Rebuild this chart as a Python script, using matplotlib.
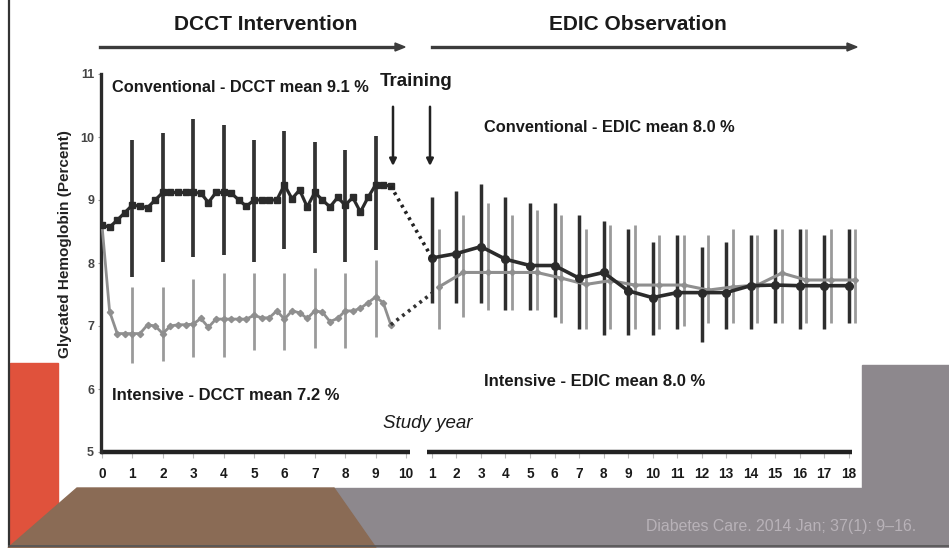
import matplotlib
matplotlib.use("Agg")
import matplotlib.pyplot as plt
from matplotlib.patches import Polygon, Rectangle
import numpy as np

# ---------------- data ----------------
dcct_years = [i * 0.25 for i in range(39)]  # 0 .. 9.5 quarterly
conv_dcct = [8.60, 8.57, 8.68, 8.80, 8.92, 8.90, 8.88, 9.00, 9.12, 9.12,
             9.12, 9.12, 9.12, 9.11, 8.96, 9.12, 9.12, 9.11, 9.00, 8.90,
             9.00, 9.00, 9.00, 9.00, 9.24, 9.02, 9.16, 8.89, 9.12, 9.00,
             8.89, 9.04, 8.92, 9.04, 8.81, 9.04, 9.24, 9.24, 9.22]
int_dcct = [8.60, 7.23, 6.88, 6.88, 6.88, 6.88, 7.02, 7.00, 6.88, 7.00,
            7.02, 7.02, 7.03, 7.12, 6.98, 7.11, 7.11, 7.11, 7.11, 7.11,
            7.17, 7.13, 7.13, 7.24, 7.11, 7.24, 7.21, 7.12, 7.24, 7.22,
            7.07, 7.12, 7.24, 7.24, 7.28, 7.37, 7.46, 7.37, 7.02]

dcct_bar_years = [1, 2, 3, 4, 5, 6, 7, 8, 9]
conv_dcct_hi = [9.96, 10.06, 10.28, 10.19, 9.96, 10.10, 9.92, 9.80, 10.02]
conv_dcct_lo = [7.78, 8.02, 8.10, 8.13, 8.01, 8.23, 8.16, 8.02, 8.21]
int_dcct_hi = [7.62, 7.62, 7.74, 7.84, 7.84, 7.84, 7.92, 7.84, 8.04]
int_dcct_lo = [6.42, 6.44, 6.51, 6.51, 6.62, 6.62, 6.65, 6.65, 6.82]

edic_years = list(range(1, 19))
conv_edic = [8.08, 8.15, 8.26, 8.06, 7.96, 7.96, 7.76, 7.85, 7.56, 7.45,
             7.53, 7.53, 7.53, 7.64, 7.65, 7.64, 7.64, 7.64]
conv_edic_hi = [9.05, 9.14, 9.25, 9.05, 8.95, 8.95, 8.76, 8.66, 8.54, 8.34,
                8.44, 8.25, 8.34, 8.44, 8.54, 8.54, 8.44, 8.54]
conv_edic_lo = [7.36, 7.36, 7.36, 7.25, 7.25, 7.15, 6.95, 6.86, 6.86, 6.86,
                6.95, 6.75, 6.95, 6.95, 7.05, 6.95, 6.95, 7.05]
int_edic = [7.62, 7.85, 7.85, 7.85, 7.85, 7.76, 7.66, 7.72, 7.65, 7.65,
            7.65, 7.57, 7.62, 7.65, 7.84, 7.73, 7.73, 7.73]
int_edic_hi = [8.54, 8.76, 8.95, 8.76, 8.84, 8.76, 8.54, 8.60, 8.60, 8.44,
               8.44, 8.44, 8.54, 8.44, 8.54, 8.54, 8.54, 8.54]
int_edic_lo = [6.95, 7.15, 7.25, 7.25, 7.25, 7.05, 6.95, 6.95, 6.95, 6.95,
               7.00, 7.05, 7.05, 7.05, 7.05, 7.05, 7.05, 7.05]

dcct_tick_labels = [str(i) for i in range(0, 11)]
edic_tick_labels = [str(i) for i in range(1, 19)]
y_ticks = [5, 6, 7, 8, 9, 10, 11]

# ---------------- scale for broken study-year axis ----------------
EDIC_START = 10.855   # axis position of EDIC year 1
EDIC_STEP = 0.806     # axis units per EDIC year
GRAY_SHIFT = 0.28     # EDIC-year offset of intensive bars


def edic_pos(y):
    return EDIC_START + (np.asarray(y, dtype=float) - 1) * EDIC_STEP


W, H = 949, 548
fig = plt.figure(figsize=(W / 100, H / 100), dpi=100)
fig.patch.set_facecolor("white")


def fx(px):
    return px / W


def fy(py):
    return 1 - py / H


FONT = ["Liberation Sans", "DejaVu Sans"]

# ---------------- decorative background ----------------
red = "#e0523c"
brown = "#8a6b55"
grey = "#8d888d"
fig.add_artist(Rectangle((fx(10), fy(548)), fx(48) - fx(0), fy(363) - fy(548),
                         transform=fig.transFigure, color=red, zorder=0))
fig.add_artist(Polygon([(fx(333), fy(488)), (fx(949), fy(488)), (fx(949), fy(548)),
                        (fx(375), fy(548))], closed=True, transform=fig.transFigure,
                       color=grey, zorder=0))
fig.add_artist(Rectangle((fx(862), fy(548)), fx(949) - fx(862), fy(365) - fy(548),
                         transform=fig.transFigure, color=grey, zorder=0))
fig.add_artist(Polygon([(fx(77), fy(488)), (fx(334), fy(488)), (fx(376), fy(548)),
                        (fx(8), fy(548))], closed=True, transform=fig.transFigure,
                       color=brown, zorder=0))
fig.add_artist(plt.Line2D([fx(9), fx(9)], [fy(0), fy(546)], transform=fig.transFigure,
                          color="#333333", lw=1.6, zorder=1))
fig.add_artist(plt.Line2D([fx(9), fx(949)], [fy(546), fy(546)], transform=fig.transFigure,
                          color="#555555", lw=1.2, zorder=1))

# ---------------- axes ----------------
ax = fig.add_axes([fx(101), fy(452), fx(862) - fx(101), fy(74) - fy(452)])
ax.set_facecolor("none")
x0 = (101 - 102) / 30.4
x1 = (862 - 102) / 30.4
ax.set_xlim(x0, x1)
ax.set_ylim(5, 11)
for s in ["top", "right", "bottom"]:
    ax.spines[s].set_visible(False)
ax.spines["left"].set_linewidth(2.4)
ax.spines["left"].set_color("#2a2a2a")

# broken bottom axis line
ax.plot([x0, 10.13], [5, 5], color="#222222", lw=3.2, clip_on=False, solid_capstyle="butt")
ax.plot([edic_pos(1) - 0.15, edic_pos(18) + 0.1], [5, 5], color="#222222", lw=3.2,
        clip_on=False, solid_capstyle="butt")

# x ticks
xt = list(range(0, 11)) + list(edic_pos(edic_years))
xl = dcct_tick_labels + edic_tick_labels
ax.set_xticks(xt)
ax.set_xticklabels(xl, fontsize=9.8, fontweight="bold", family=FONT, color="#1a1a1a")
ax.tick_params(axis="x", length=4, width=0.8, color="#bbbbbb", pad=7)
ax.set_yticks(y_ticks)
ax.set_yticklabels([str(v) for v in y_ticks], fontsize=9, fontweight="bold",
                   color="#444444", family=FONT)
ax.tick_params(axis="y", length=2, width=0.8, color="#999999", pad=3)

blk = "#2b2b2b"
gry = "#8f8f8f"

# DCCT error bars
ax.vlines(dcct_bar_years, int_dcct_lo, int_dcct_hi, color="#9a9a9a", lw=2.0, zorder=2)
ax.vlines(dcct_bar_years, conv_dcct_lo, conv_dcct_hi, color="#333333", lw=2.7, zorder=2)

# DCCT lines
ax.plot(dcct_years, int_dcct, color=gry, lw=2.0, marker="D", ms=3.2, zorder=3)
ax.plot(dcct_years, conv_dcct, color=blk, lw=2.3, marker="s", ms=3.8, zorder=4)

# EDIC error bars
gx = edic_pos(np.array(edic_years) + GRAY_SHIFT)
bx = edic_pos(edic_years)
ax.vlines(gx, int_edic_lo, int_edic_hi, color="#9a9a9a", lw=2.0, zorder=2)
ax.vlines(bx, conv_edic_lo, conv_edic_hi, color="#2e2e2e", lw=2.5, zorder=2)

# EDIC lines
ax.plot(gx, int_edic, color=gry, lw=2.2, marker="D", ms=3, zorder=3)
ax.plot(bx, conv_edic, color=blk, lw=2.6, marker="o", ms=5.5, zorder=4)

# dotted connectors between DCCT end and EDIC start
ax.plot([dcct_years[-1], bx[0]], [conv_dcct[-1], conv_edic[0]], color="#222222",
        lw=2.6, ls=(0, (0.8, 1.2)), zorder=4)
ax.plot([dcct_years[-1], bx[0]], [int_dcct[-1], 7.52], color="#333333",
        lw=2.6, ls=(0, (0.8, 1.2)), zorder=4)

# Training arrows
for xp in [(393 - 102) / 30.4, (430 - 102) / 30.4]:
    ax.annotate("", xy=(xp, 9.54), xytext=(xp, 10.48),
                arrowprops=dict(arrowstyle="-|>", color="#222222", lw=1.8,
                                mutation_scale=10, shrinkA=0, shrinkB=0),
                annotation_clip=False)

# ---------------- texts ----------------
fig.text(fx(266), fy(25), "DCCT Intervention", fontsize=15, fontweight="bold",
         family=FONT, ha="center", va="center", color="#1a1a1a")
fig.text(fx(638), fy(25), "EDIC Observation", fontsize=15, fontweight="bold",
         family=FONT, ha="center", va="center", color="#1a1a1a")
for a, b in [(100, 405), (432, 857)]:
    fig.add_artist(plt.Line2D([fx(a), fx(b - 8)], [fy(47), fy(47)],
                              transform=fig.transFigure, color="#3c3c3c", lw=2.4))
    fig.add_artist(Polygon([(fx(b - 10), fy(43)), (fx(b), fy(47)), (fx(b - 10), fy(51))],
                           closed=True, transform=fig.transFigure, color="#3c3c3c"))

fig.text(fx(112), fy(88), "Conventional - DCCT mean 9.1 %", fontsize=11.8,
         fontweight="bold", family=FONT, ha="left", va="center", color="#1a1a1a")
fig.text(fx(416), fy(82), "Training", fontsize=13.5, fontweight="bold",
         family=FONT, ha="center", va="center", color="#1a1a1a")
fig.text(fx(484), fy(128), "Conventional - EDIC mean 8.0 %", fontsize=11.8,
         fontweight="bold", family=FONT, ha="left", va="center", color="#1a1a1a")
fig.text(fx(112), fy(395), "Intensive - DCCT mean 7.2 %", fontsize=12,
         fontweight="bold", family=FONT, ha="left", va="center", color="#1a1a1a")
fig.text(fx(484), fy(382), "Intensive - EDIC mean 8.0 %", fontsize=12,
         fontweight="bold", family=FONT, ha="left", va="center", color="#1a1a1a")
fig.text(fx(428), fy(423), "Study year", fontsize=13.5, style="italic",
         family=FONT, ha="center", va="center", color="#1a1a1a")
fig.text(fx(65), fy(244), "Glycated Hemoglobin (Percent)", fontsize=11,
         fontweight="bold", family=FONT, rotation=90, ha="center", va="center",
         color="#222222")
fig.text(fx(781), fy(527), "Diabetes Care. 2014 Jan; 37(1): 9\u201316.", fontsize=11.4,
         family=FONT, ha="center", va="center", color="#b8b2b8")

fig.savefig("out.png", dpi=100)
